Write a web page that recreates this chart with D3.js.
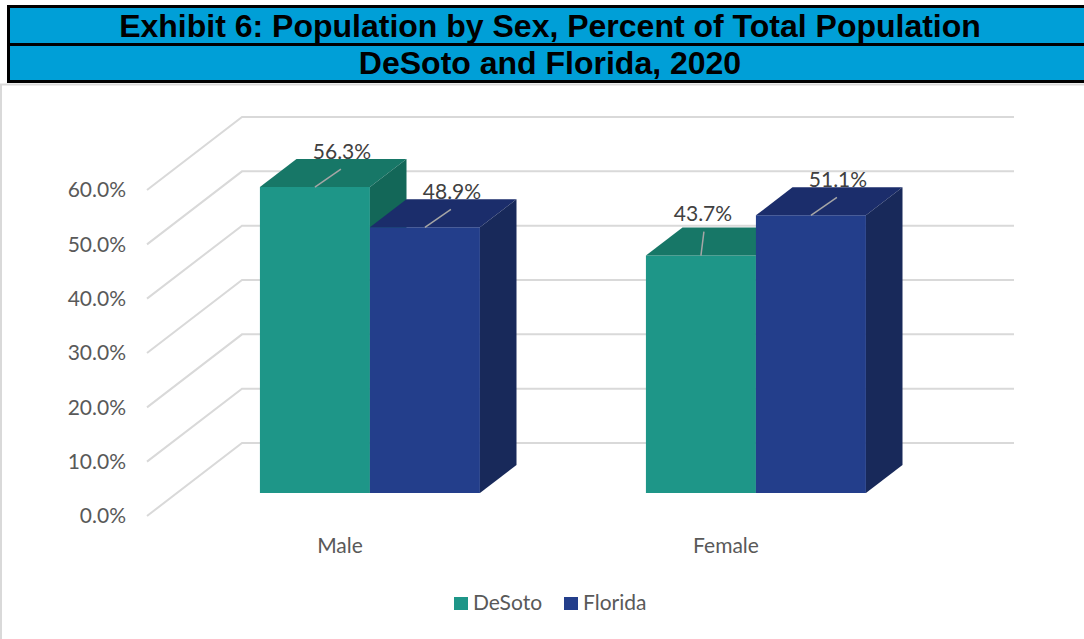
<!DOCTYPE html>
<html>
<head>
<meta charset="utf-8">
<script src="https://cdn.jsdelivr.net/npm/d3@7"></script>
<style>
  html, body { margin: 0; padding: 0; background: #fff; }
  svg { display: block; }
</style>
</head>
<body>
<div id="wrapper"></div>
<script>
// chart data
const titleLines = ["Exhibit 6: Population by Sex, Percent of Total Population", "DeSoto and Florida, 2020"]
const categories = ["Male", "Female"]
const seriesNames = ["DeSoto", "Florida"]
const desotoValues = [0.563, 0.437]
const floridaValues = [0.489, 0.511]
const yTicks = [0, 0.1, 0.2, 0.3, 0.4, 0.5, 0.6]

function drawChart() {
  const dimensions = {
    width: 1084,
    height: 639,
    plotLeft: 147,     // front edge of the floor
    plotRight: 919,
    plotBottom: 516,   // y of 0% on the front plane
    plotTop: 190,      // y of 60% on the front plane
    groupWidth: 220,
  }
  // oblique depth: z = 0 front, z = 1 back wall
  const depth = { dx: 95, dy: 73 }
  const barZ = [0.315, 0.70]

  const colors = {
    DeSoto: { front: "#1e9688", top: "#177767", side: "#136758" },
    Florida: { front: "#233e8b", top: "#1b2d6b", side: "#18295a" },
  }

  const valuesBySeries = { DeSoto: desotoValues, Florida: floridaValues }
  const rows = []
  categories.forEach((c, i) => {
    seriesNames.forEach(s => rows.push({ category: c, series: s, value: valuesBySeries[s][i] }))
  })

  const svg = d3.select("#wrapper")
    .append("svg")
      .attr("width", dimensions.width)
      .attr("height", dimensions.height)

  // chart border
  svg.append("rect")
    .attr("x", 1).attr("y", 84.5)
    .attr("width", 1100).attr("height", 600)
    .attr("fill", "#fff")
    .attr("stroke", "#d9d9d9")
    .attr("stroke-width", 2)

  // title box
  const title = svg.append("g")
  title.append("rect")
    .attr("x", 8.5).attr("y", 6.5)
    .attr("width", 1100).attr("height", 75)
    .attr("fill", "#009fd7")
    .attr("stroke", "#000")
    .attr("stroke-width", 3)
  title.append("line")
    .attr("x1", 8).attr("x2", 1090)
    .attr("y1", 44.5).attr("y2", 44.5)
    .attr("stroke", "#000")
    .attr("stroke-width", 3)
  title.selectAll("text")
    .data(titleLines)
    .join("text")
      .attr("x", 550)
      .attr("y", (d, i) => i == 0 ? 37 : 74)
      .attr("text-anchor", "middle")
      .style("font-family", "'Liberation Sans', Arial, sans-serif")
      .style("font-weight", "bold")
      .style("font-size", "32px")
      .attr("fill", "#000")
      .text(d => d)

  // scales
  const yScale = d3.scaleLinear()
    .domain([0, 0.6])
    .range([dimensions.plotBottom, dimensions.plotTop])

  const xScale = d3.scaleBand()
    .domain(categories)
    .range([dimensions.plotLeft, dimensions.plotRight])

  const seriesScale = d3.scaleBand()
    .domain(seriesNames)
    .range([0, dimensions.groupWidth])

  const proj = (x, v, z) => [x + z * depth.dx, yScale(v) - z * depth.dy]

  const bounds = svg.append("g")

  // walls: side-wall diagonals and back-wall lines
  bounds.append("g")
    .selectAll("path")
    .data(yTicks)
    .join("path")
      .attr("d", v => {
        const a = proj(dimensions.plotLeft, v, 0)
        const b = proj(dimensions.plotLeft, v, 1)
        const c = proj(dimensions.plotRight, v, 1)
        return `M${a}L${b}L${c}`
      })
      .attr("fill", "none")
      .attr("stroke", "#d9d9d9")
      .attr("stroke-width", 2)

  // y tick labels
  bounds.append("g")
    .selectAll("text")
    .data(yTicks)
    .join("text")
      .attr("x", dimensions.plotLeft - 21)
      .attr("y", v => yScale(v))
      .attr("dy", "0.35em")
      .attr("text-anchor", "end")
      .style("font-family", "Lato, 'Open Sans', sans-serif")
      .style("font-size", "21px")
      .attr("fill", "#595959")
      .text(d3.format(".1%"))

  // x category labels
  bounds.append("g")
    .selectAll("text")
    .data(categories)
    .join("text")
      .attr("x", c => xScale(c) + xScale.bandwidth() / 2)
      .attr("y", yScale(0) + 37)
      .attr("text-anchor", "middle")
      .style("font-family", "Lato, 'Open Sans', sans-serif")
      .style("font-size", "21px")
      .attr("fill", "#595959")
      .text(d => d)

  // bars
  const barX0 = d => xScale(d.category) + (xScale.bandwidth() - dimensions.groupWidth) / 2 + seriesScale(d.series)
  const barX1 = d => barX0(d) + seriesScale.bandwidth()
  const poly = pts => "M" + pts.join("L") + "Z"

  const bars = bounds.append("g")
    .selectAll("g")
    .data(rows)
    .join("g")

  bars.append("path")
    .attr("d", d => poly([
      proj(barX0(d), 0, barZ[0]), proj(barX1(d), 0, barZ[0]),
      proj(barX1(d), d.value, barZ[0]), proj(barX0(d), d.value, barZ[0]),
    ]))
    .attr("fill", d => colors[d.series].front)

  bars.append("path")
    .attr("d", d => poly([
      proj(barX0(d), d.value, barZ[0]), proj(barX1(d), d.value, barZ[0]),
      proj(barX1(d), d.value, barZ[1]), proj(barX0(d), d.value, barZ[1]),
    ]))
    .attr("fill", d => colors[d.series].top)

  bars.append("path")
    .attr("d", d => poly([
      proj(barX1(d), 0, barZ[0]), proj(barX1(d), d.value, barZ[0]),
      proj(barX1(d), d.value, barZ[1]), proj(barX1(d), 0, barZ[1]),
    ]))
    .attr("fill", d => colors[d.series].side)

  // data labels with leader lines
  const labelNudge = d => (d.category == "Female" && d.series == "DeSoto")
    ? { lx: 3, ly: -24, tx: 2, ty: -35 }
    : { lx: 26, ly: -18, tx: 27, ty: -28 }

  const labels = bounds.append("g")
    .selectAll("g")
    .data(rows)
    .join("g")
      .attr("transform", d => {
        const p = proj((barX0(d) + barX1(d)) / 2, d.value, barZ[0])
        return `translate(${p})`
      })

  labels.append("line")
    .attr("x1", 0).attr("y1", 0)
    .attr("x2", d => labelNudge(d).lx)
    .attr("y2", d => labelNudge(d).ly)
    .attr("stroke", "#a6a6a6")
    .attr("stroke-width", 1.5)

  labels.append("text")
    .attr("x", d => labelNudge(d).tx)
    .attr("y", d => labelNudge(d).ty)
    .attr("text-anchor", "middle")
    .style("font-family", "Lato, 'Open Sans', sans-serif")
    .style("font-size", "21px")
    .attr("fill", "#404040")
    .text(d => d3.format(".1%")(d.value))

  // legend
  const legend = svg.append("g")
    .attr("transform", "translate(454, 597)")
  const legendItems = legend.selectAll("g")
    .data(seriesNames)
    .join("g")
      .attr("transform", (d, i) => `translate(${i * 110}, 0)`)
  legendItems.append("rect")
    .attr("width", 14).attr("height", 13)
    .attr("fill", d => colors[d].front)
  legendItems.append("text")
    .attr("x", 19)
    .attr("y", 13)
    .style("font-family", "Lato, 'Open Sans', sans-serif")
    .style("font-size", "21px")
    .attr("fill", "#595959")
    .text(d => d)
}

drawChart()
</script>
</body>
</html>
